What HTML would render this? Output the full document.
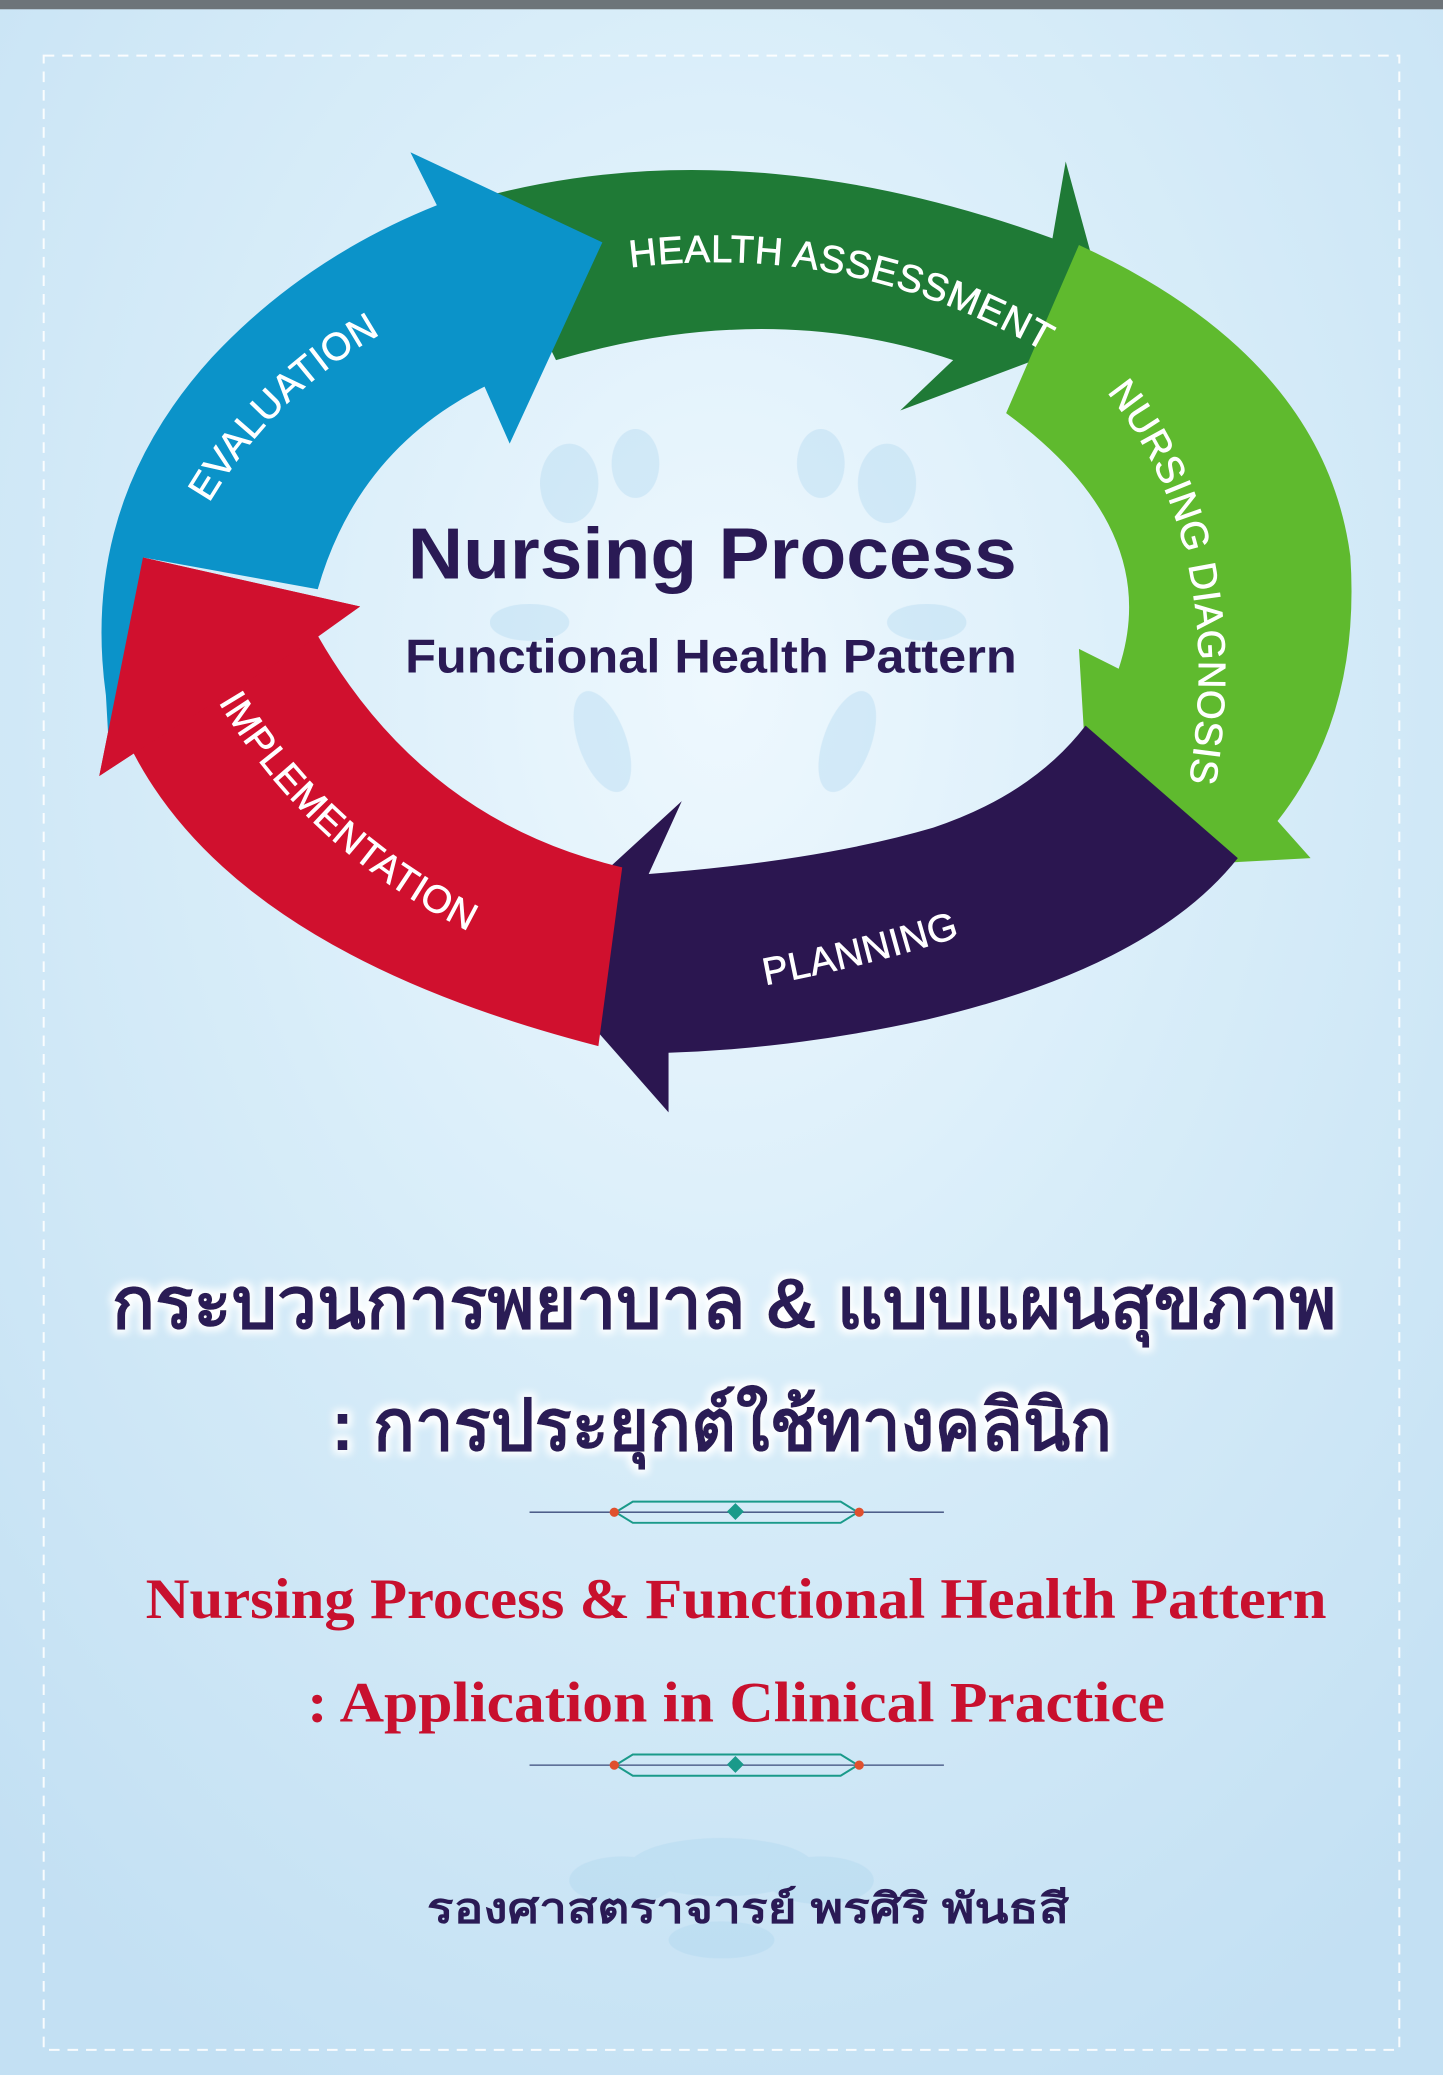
<!DOCTYPE html>
<html><head><meta charset="utf-8">
<style>
html,body{margin:0;padding:0;background:#cfe6f5;}
svg{display:block;}
</style></head>
<body>
<svg width="1443" height="2075" viewBox="0 0 1090 1567" preserveAspectRatio="none" xmlns="http://www.w3.org/2000/svg">
<defs>
<radialGradient id="bg" cx="0.5" cy="0.33" r="0.75">
<stop offset="0" stop-color="#eef8fe"/>
<stop offset="0.45" stop-color="#d8edf9"/>
<stop offset="1" stop-color="#c3e0f3"/>
</radialGradient>
<filter id="glow" x="-10%" y="-30%" width="120%" height="160%">
<feMorphology operator="dilate" radius="3" in="SourceAlpha" result="d"/>
<feGaussianBlur in="d" stdDeviation="3" result="b"/>
<feFlood flood-color="#ffffff"/>
<feComposite in2="b" operator="in" result="w"/>
<feMerge><feMergeNode in="w"/><feMergeNode in="SourceGraphic"/></feMerge>
</filter>
<path id="pHA" d="M 476 202 Q 650 180 805 275"/>
<path id="pND" d="M 836 296 Q 935 420 893 618"/>
<path id="pIM" d="M 165 530 Q 235 648 368 710"/>
<path id="pEV" d="M 158 380 Q 215 283 320 236"/>
<path id="pPL" d="M 578 744 Q 670 727 752 698"/>
</defs>
<rect width="1090" height="1567" fill="url(#bg)"/>
<rect x="0" y="0" width="1090" height="7" fill="#6d7479"/>
<rect x="33" y="42" width="1024" height="1506" fill="none" stroke="#ffffff" stroke-width="1.5" stroke-dasharray="8,6" opacity="0.9"/>

<!-- faint floral watermark -->
<g fill="#a9d3ee" opacity="0.35">
<ellipse cx="430" cy="365" rx="22" ry="30"/><ellipse cx="480" cy="350" rx="18" ry="26"/>
<ellipse cx="620" cy="350" rx="18" ry="26"/><ellipse cx="670" cy="365" rx="22" ry="30"/>
<ellipse cx="455" cy="560" rx="18" ry="40" transform="rotate(-20 455 560)"/>
<ellipse cx="640" cy="560" rx="18" ry="40" transform="rotate(20 640 560)"/>
<ellipse cx="400" cy="470" rx="30" ry="14"/><ellipse cx="700" cy="470" rx="30" ry="14"/>
<ellipse cx="545" cy="1410" rx="70" ry="22"/><ellipse cx="470" cy="1420" rx="40" ry="18"/><ellipse cx="620" cy="1420" rx="40" ry="18"/>
<ellipse cx="545" cy="1465" rx="40" ry="14"/>
</g>

<path fill="#1f7a36" d="M 360 150 Q 560 95 795 180 L 805 122 L 840 250 L 680 310 L 720 272 Q 580 225 420 272 Z"/>
<path fill="#5fba2e" d="M 815 185 Q 1000 270 1020 420 Q 1028 540 965 620 L 990 648 L 825 657 L 815 490 L 845 505 Q 880 400 760 312 Z"/>
<path fill="#2b1650" d="M 935 648 Q 870 730 700 770 Q 600 792 505 795 L 505 840 L 395 715 L 515 605 L 490 660 Q 620 650 705 625 Q 780 600 820 548 Z"/>
<path fill="#d0102e" d="M 470 655 Q 320 620 240 480 L 272 458 L 108 421 L 75 586 L 101 569 Q 180 720 452 790 Z"/>
<path fill="#0b93c9" d="M 80 525 Q 60 380 160 270 Q 230 195 330 155 L 310 115 L 455 183 L 385 335 L 366 292 Q 270 340 240 445 L 108 421 L 101 569 L 82 560 Z"/>
<path fill="#d0102e" d="M 240 481 L 272 458 L 108 421 L 75 586 L 101 569 Z"/>

<g font-family="Liberation Sans, sans-serif" font-size="29" fill="#ffffff" stroke="#ffffff" stroke-width="0.5" letter-spacing="0.5">
<text><textPath href="#pHA">HEALTH ASSESSMENT</textPath></text>
<text><textPath href="#pND">NURSING DIAGNOSIS</textPath></text>
<text><textPath href="#pIM">IMPLEMENTATION</textPath></text>
<text><textPath href="#pEV">EVALUATION</textPath></text>
<text><textPath href="#pPL">PLANNING</textPath></text>
</g>

<g font-family="Liberation Sans, sans-serif" font-weight="bold" fill="#2a1a55" text-anchor="middle">
<text x="538" y="437" font-size="55" textLength="460" lengthAdjust="spacingAndGlyphs">Nursing Process</text>
<text x="537" y="508" font-size="36" textLength="462" lengthAdjust="spacingAndGlyphs">Functional Health Pattern</text>
</g>

<g font-family="Liberation Sans, 'Noto Sans CJK SC', sans-serif" font-weight="bold" fill="#2a1a55" text-anchor="middle" filter="url(#glow)">
<text x="547" y="1003" font-size="54" textLength="925" lengthAdjust="spacingAndGlyphs">กระบวนการพยาบาล &amp; แบบแผนสุขภาพ</text>
<text x="545" y="1095" font-size="54" textLength="590" lengthAdjust="spacingAndGlyphs">: การประยุกต์ใช้ทางคลินิก</text>
</g>

<g stroke="#3a4a7a" stroke-width="1" fill="none">
<line x1="400" y1="1142" x2="713" y2="1142"/>
<line x1="400" y1="1333" x2="713" y2="1333"/>
</g>
<g stroke="#1a9a8a" stroke-width="1.5" fill="none">
<path d="M 465 1142 L 478 1134 L 635 1134 L 648 1142 L 635 1150 L 478 1150 Z"/>
<path d="M 465 1333 L 478 1325 L 635 1325 L 648 1333 L 635 1341 L 478 1341 Z"/>
</g>
<g fill="#1a9a8a"><rect x="551" y="1137" width="9" height="9" transform="rotate(45 555.5 1141.5)"/><rect x="551" y="1328" width="9" height="9" transform="rotate(45 555.5 1332.5)"/></g>
<g fill="#e0502e"><circle cx="464" cy="1142" r="3.5"/><circle cx="649" cy="1142" r="3.5"/><circle cx="464" cy="1333" r="3.5"/><circle cx="649" cy="1333" r="3.5"/></g>

<g font-family="Liberation Serif, serif" font-weight="bold" fill="#c8102e" text-anchor="middle" font-size="43">
<text x="556" y="1222" textLength="892" lengthAdjust="spacingAndGlyphs">Nursing Process &amp; Functional Health Pattern</text>
<text x="556" y="1300" textLength="648" lengthAdjust="spacingAndGlyphs">: Application in Clinical Practice</text>
</g>

<text x="565" y="1452" font-family="Liberation Sans, 'Noto Sans CJK SC', sans-serif" font-weight="bold" font-size="31" fill="#2a1a55" text-anchor="middle" textLength="485" lengthAdjust="spacingAndGlyphs">รองศาสตราจารย์ พรศิริ พันธสี</text>
</svg>
</body></html>
